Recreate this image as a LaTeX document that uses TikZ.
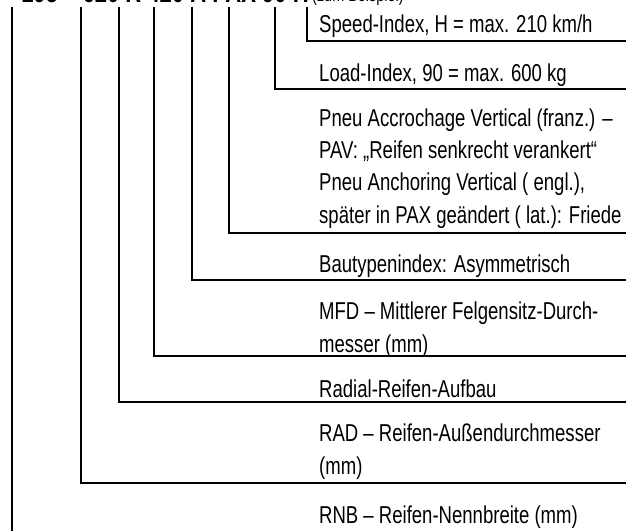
\documentclass[tikz,border=0pt]{standalone}
\usepackage{fontspec}
\setmainfont{Liberation Sans}[FakeStretch=0.76]
\usepackage{tikz}
\tikzset{legende/.style={anchor=base west, inner sep=0pt, align=left,
    font=\fontsize{24.4}{32.3}\selectfont}}
\tikzset{lead/.style={line width=1.8pt}}

\begin{document}
\begin{tikzpicture}[x=1pt, y=-1pt]
  \useasboundingbox (0,0) rectangle (626,531);
  \clip (0,0) rectangle (626,531);

  % Reifenbezeichnung, oben angeschnitten
  \node[anchor=base east, inner sep=0pt, font=\fontsize{29}{29}\selectfont\bfseries] (code) at (309,2) {195 -- 620 R 420 A PAX 90 H};
  \node[anchor=base west, inner sep=0pt, font=\fontsize{19}{19}\selectfont] (bsp) at (312,1.5) {(zum Beispiel)};

  % Erklaerungen (bei mehrzeiligen: Grundlinie der letzten Zeile)
  \node[legende] (speed) at (319,32) {Speed-Index, H = max. 210 km/h};
  \node[legende] (load) at (319,81) {Load-Index, 90 = max. 600 kg};
  \node[legende] (pav) at (319,223) {Pneu Accrochage Vertical (franz.) --\\PAV: „Reifen senkrecht verankert“\\Pneu Anchoring Vertical ( engl.),\\später in PAX geändert ( lat.): Friede};
  \node[legende] (bau) at (319,272) {Bautypenindex: Asymmetrisch};
  \node[legende] (mfd) at (319,352) {MFD -- Mittlerer Felgensitz-Durch-\\messer (mm)};
  \node[legende] (radial) at (319,397) {Radial-Reifen-Aufbau};
  \node[legende] (rad) at (319,474) {RAD -- Reifen-Außendurchmesser\\(mm)};
  \node[legende] (rnb) at (319,523) {RNB -- Reifen-Nennbreite (mm)};

  \coordinate (cH) at (307,7);
  \coordinate (c90) at (275,7);
  \coordinate (cPAX) at (229,7);
  \coordinate (cA) at (192,7);
  \coordinate (c420) at (154,7);
  \coordinate (cR) at (119,7);
  \coordinate (c620) at (81,7);
  \coordinate (c195) at (12,7);

  \coordinate (eH) at (626,41);
  \coordinate (e90) at (626,89);
  \coordinate (ePAX) at (626,233);
  \coordinate (eA) at (626,280);
  \coordinate (e420) at (626,356);
  \coordinate (eR) at (626,402);
  \coordinate (e620) at (626,483);
  \coordinate (e195) at (12,531);

  \draw[lead] (cH) |- (eH);
  \draw[lead] (c90) |- (e90);
  \draw[lead] (cPAX) |- (ePAX);
  \draw[lead] (cA) |- (eA);
  \draw[lead] (c420) |- (e420);
  \draw[lead] (cR) |- (eR);
  \draw[lead] (c620) |- (e620);
  \draw[lead] (c195) -- (e195);
\end{tikzpicture}
\end{document}
